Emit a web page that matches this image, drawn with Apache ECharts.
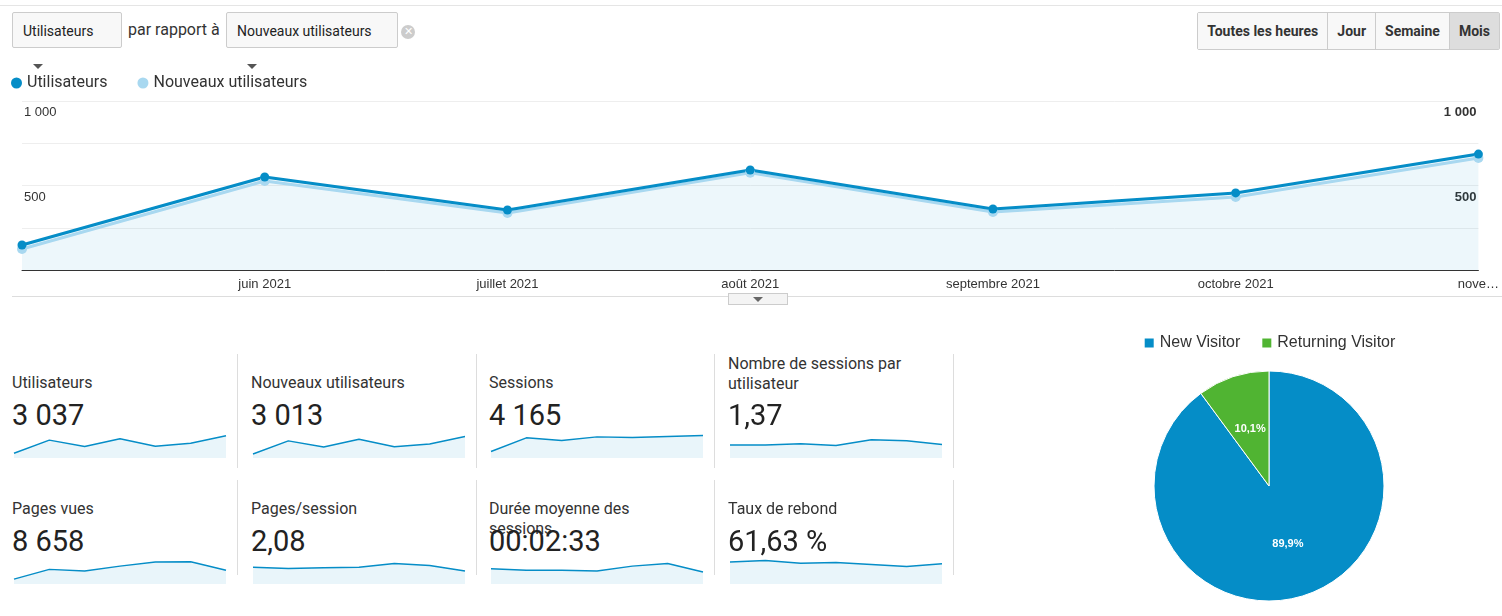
<!DOCTYPE html>
<html>
<head>
<meta charset="utf-8">
<script src="https://cdn.jsdelivr.net/npm/echarts@6/dist/echarts.min.js"></script>
<style>
  body { margin: 0; width: 1502px; height: 616px; background: #fff; font-family: Roboto, Arial, sans-serif; position: relative; overflow: hidden; color: #222; }
  .abs { position: absolute; }
  .sel { border: 1px solid #ccc; border-radius: 2px; background: #f8f8f8; font-size: 14px; height: 36px; line-height: 36px; padding: 0 10px; box-sizing: border-box; }
  .sel:after { content: ''; display: inline-block; border: 5px solid transparent; border-top-color: #555; margin-left: 10px; vertical-align: -2px; }
  .btns { top: 12px; right: 2px; display: flex; border: 1px solid #ccc; border-radius: 2px; height: 38px; box-sizing: border-box; }
  .btns div { font-size: 14px; font-weight: bold; color: #333; padding: 0 9px; line-height: 36px; border-left: 1px solid #ccc; background: #f8f8f8; }
  .btns div:first-child { border-left: none; }
  .btns div.on { background: #ddd; }
  .t { font-size: 16px; color: #333; }
  .v { font-size: 29px; color: #222; }
  .sep { width: 1px; background: #ddd; }
</style>
</head>
<body>
<div class="abs" style="left:0;top:5px;width:1502px;height:1px;background:#e5e5e5"></div>
<div class="abs sel" style="left:12px;top:12px;width:110px">Utilisateurs</div>
<div class="abs" style="left:128px;top:20px;font-size:16px;color:#333">par rapport à</div>
<div class="abs sel" style="left:226px;top:12px;width:172px">Nouveaux utilisateurs</div>
<div class="abs" style="left:401px;top:25px;width:14px;height:14px;border-radius:7px;background:#ccc;color:#fff;font-size:11px;line-height:14px;text-align:center">✕</div>
<div class="abs btns">
  <div>Toutes les heures</div><div>Jour</div><div>Semaine</div><div class="on">Mois</div>
</div>

<div id="main" class="abs" style="left:0;top:65px;width:1502px;height:240px"></div>
<div class="abs" style="left:12px;top:296px;width:1490px;height:1px;background:#ddd"></div>
<div class="abs" style="left:728px;top:293px;width:60px;height:12px;border:1px solid #ccc;background:#f4f4f4;box-sizing:border-box"></div>
<div class="abs" style="left:753px;top:297px;border:5px solid transparent;border-top-color:#666"></div>

<div id="metrics"></div>
<div id="pie" class="abs" style="left:1069px;top:320px;width:400px;height:296px"></div>

<script>
const months = ['mai 2021', 'juin 2021', 'juillet 2021', 'août 2021', 'septembre 2021', 'octobre 2021', 'nove…'];
const users = [148, 550, 355, 592, 361, 456, 686];
const newUsers = [124, 527, 337, 575, 343, 432, 663];

const metricNames = ['Utilisateurs', 'Nouveaux utilisateurs', 'Sessions', 'Nombre de sessions par utilisateur',
  'Pages vues', 'Pages/session', 'Durée moyenne des sessions', 'Taux de rebond'];
const metricValues = ['3 037', '3 013', '4 165', '1,37', '8 658', '2,08', '00:02:33', '61,63 %'];
const sparks = [
  [148, 550, 355, 592, 361, 456, 686],
  [124, 527, 337, 575, 343, 432, 663],
  [200, 620, 540, 650, 630, 660, 690],
  [1.30, 1.30, 1.33, 1.29, 1.42, 1.40, 1.31],
  [300, 900, 800, 1100, 1350, 1370, 850],
  [2.05, 2.02, 2.04, 2.05, 2.15, 2.10, 1.95],
  [140, 128, 128, 120, 165, 190, 110],
  [64, 66, 62, 63, 60, 57, 61]
];
const sparkMin = [0, 0, 0, 1.0, 0, 1.6, 0, 30];
const sparkMax = [800, 800, 800, 1.6, 1600, 2.3, 240, 70];

const pieNames = ['New Visitor', 'Returning Visitor'];
const pieValues = [89.9, 10.1];

const main = echarts.init(document.getElementById('main'));
const yLab = (v) => v === 1000 ? '1 000' : (v === 500 ? '500' : '');
main.setOption({
  animation: false,
  legend: {
    left: 6, top: 5, icon: 'circle', itemWidth: 11, itemHeight: 11, itemGap: 30,
    textStyle: { fontSize: 16, color: '#333', fontFamily: 'Roboto' },
    data: ['Utilisateurs', 'Nouveaux utilisateurs']
  },
  grid: { left: 22, right: 22, top: 36, bottom: 35 },
  xAxis: {
    type: 'category', data: months, boundaryGap: false,
    axisLine: { lineStyle: { color: '#333' } }, axisTick: { show: false },
    axisLabel: { color: '#333', fontSize: 13, margin: 8, interval: (i) => i > 0 }
  },
  yAxis: [
    { type: 'value', min: 0, max: 1000, interval: 250,
      splitLine: { lineStyle: { color: '#eee' } },
      axisLabel: { inside: true, formatter: yLab, color: '#333', fontSize: 13, verticalAlign: 'top', padding: [5, 0, 0, 0], margin: 2 } },
    { type: 'value', min: 0, max: 1000, interval: 250, position: 'right',
      splitLine: { show: false },
      axisLabel: { inside: true, formatter: yLab, color: '#333', fontSize: 13, fontWeight: 'bold', verticalAlign: 'top', padding: [5, 0, 0, 0], margin: 2 } }
  ],
  series: [
    { name: 'Nouveaux utilisateurs', type: 'line', data: newUsers, symbol: 'circle', symbolSize: 10,
      color: '#a8d8f0', lineStyle: { width: 3, color: '#a8d8f0' } },
    { name: 'Utilisateurs', type: 'line', data: users, symbol: 'circle', symbolSize: 9,
      color: '#058dc7', lineStyle: { width: 3, color: '#058dc7' },
      areaStyle: { color: 'rgba(5,141,199,0.1)' } }
  ]
});

const colX = [12, 251, 489, 728];
const rowY = [354, 480];
const host = document.getElementById('metrics');
metricNames.forEach((name, i) => {
  const c = i % 4, r = Math.floor(i / 4);
  const x = colX[c], y = rowY[r];
  const two = name.length > 30;
  host.insertAdjacentHTML('beforeend',
    `<div class="abs t" style="left:${x}px;top:${two ? y : y + 19}px;width:200px;line-height:20px">${name}</div>` +
    `<div class="abs v" style="left:${x}px;top:${y + 44}px">${metricValues[i]}</div>` +
    `<div id="sp${i}" class="abs" style="left:${x}px;top:${y + 76}px;width:216px;height:30px"></div>` +
    `<div class="abs sep" style="left:${x + 225}px;top:${y}px;height:${r ? 95 : 114}px"></div>`);
  const ch = echarts.init(document.getElementById('sp' + i));
  ch.setOption({
    animation: false,
    grid: { left: 2, right: 2, top: 2, bottom: 2 },
    xAxis: { type: 'category', boundaryGap: false, show: false, data: months },
    yAxis: { type: 'value', show: false, min: sparkMin[i], max: sparkMax[i] },
    series: [{ type: 'line', data: sparks[i], symbol: 'none', lineStyle: { width: 1.5, color: '#058dc7' },
      areaStyle: { color: 'rgba(5,141,199,0.12)' } }]
  });
});

const pie = echarts.init(document.getElementById('pie'));
pie.setOption({
  animation: false,
  legend: { top: 10, left: 'center', icon: 'rect', itemWidth: 11, itemHeight: 11, itemGap: 20,
    textStyle: { fontSize: 16, color: '#333' } },
  color: ['#058dc7', '#50b432'],
  series: [{
    type: 'pie', center: [200, 166], radius: 115, startAngle: 90, clockwise: true,
    data: pieNames.map((n, i) => ({ name: n, value: pieValues[i] })),
    itemStyle: { borderColor: '#fff', borderWidth: 1 },
    label: { position: 'inside', formatter: (p) => p.value.toFixed(1).replace('.', ',') + '%', color: '#fff', fontSize: 11, fontWeight: 'bold' },
    labelLine: { show: false }
  }]
});
</script>
</body>
</html>
